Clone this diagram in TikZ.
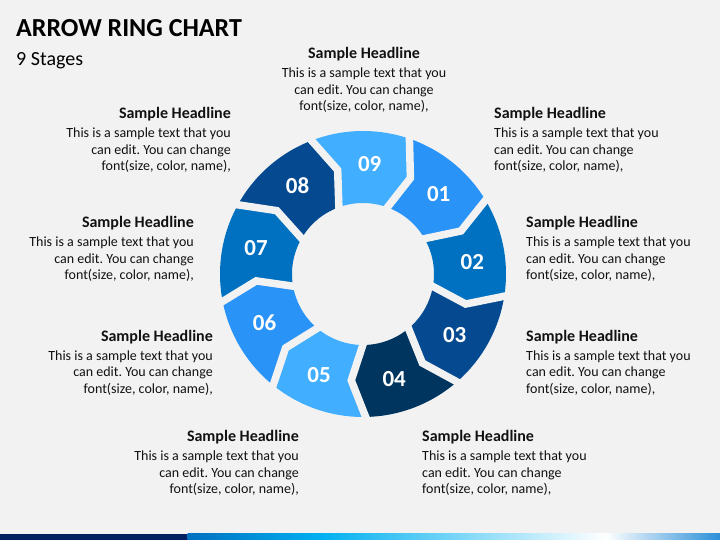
\documentclass[tikz,border=0pt]{standalone}
\usepackage{fontspec}
\setmainfont{Carlito}
\usetikzlibrary{calc}
\frenchspacing
\definecolor{bg}{HTML}{F2F2F2}
\definecolor{cA}{HTML}{41AEFF}
\definecolor{cB}{HTML}{2A93F7}
\definecolor{cC}{HTML}{0070C0}
\definecolor{cD}{HTML}{054A91}
\definecolor{cE}{HTML}{003560}
\definecolor{navy}{HTML}{002060}
\definecolor{barA}{HTML}{0070C0}
\definecolor{barB}{HTML}{00B0F0}
\definecolor{barC}{HTML}{FFFFFF}
\definecolor{barD}{HTML}{2A8FD8}
\definecolor{txt}{HTML}{111111}
\begin{document}
\frenchspacing
\begin{tikzpicture}[x=1pt,y=1pt,
  numlab/.style={text=white,font=\fontsize{23}{26}\selectfont\bfseries,inner sep=0pt},
  blk/.style={inner sep=0pt,text=txt,font=\fontsize{14}{16.7}\selectfont\frenchspacing},
  gapline/.style={draw=bg,line width=7.5pt,line join=miter}]
\fill[bg] (0,0) rectangle (720,540);
\useasboundingbox (0,0) rectangle (720,540);
% title
\node[anchor=base west,inner sep=0pt,text=black,font=\fontsize{26}{30}\selectfont\bfseries] (title) at (16,503.3) {ARROW RING CHART};
\node[anchor=base west,inner sep=0pt,text=black,font=\fontsize{20}{24}\selectfont] (sub) at (16,474.3) {9 Stages};
% ring
\coordinate (c) at (363,266);
\def\Ro{143}
\def\Ri{71}
\def\Rm{107}
\foreach \k/\col in {0/cA,1/cB,2/cC,3/cD,4/cE,5/cA,6/cB,7/cC,8/cD}{
  \pgfmathsetmacro\T{112.7-40*\k}
  \pgfmathsetmacro\L{\T-40}
  \fill[\col] ($(c)+(\T:\Ro)$) arc[start angle=\T,end angle=\L,radius=\Ro pt]
     -- ($(c)+(\L-9:\Rm)$) -- ($(c)+(\L:\Ri)$)
     arc[start angle=\L,end angle=\T,radius=\Ri pt]
     -- ($(c)+(\T-9:\Rm)$) -- cycle;
}
\foreach \k in {0,...,8}{
  \pgfmathsetmacro\B{112.7-40*\k}
  \draw[gapline] ($(c)+(\B:\Ro+12)$) -- ($(c)+(\B-9:\Rm)$) -- ($(c)+(\B+1:\Ri-12)$);
}
\foreach \k/\t in {0/09,1/01,2/02,3/03,4/04,5/05,6/06,7/07,8/08}{
  \node[numlab] (n\t) at ($(c)+(86.5-40*\k:110)$) {\t};
}
% text blocks
\newcommand{\hdl}{{\fontsize{16}{16.7}\selectfont\bfseries Sample Headline}\\[2.3pt]This is a sample text that you\\can edit. You can change\\font(size, color, name),}
\node[blk,anchor=north,align=center] (t9) at (364,493.1) {\hdl};
\node[blk,anchor=north west,align=left] (t1) at (494,433.1) {\hdl};
\node[blk,anchor=north west,align=left] (t2) at (526,324.1) {\hdl};
\node[blk,anchor=north west,align=left] (t3) at (526,210.4) {\hdl};
\node[blk,anchor=north west,align=left] (t4) at (422,110.1) {\hdl};
\node[blk,anchor=north east,align=right] (t5) at (299,110.1) {\hdl};
\node[blk,anchor=north east,align=right] (t6) at (213,210.4) {\hdl};
\node[blk,anchor=north east,align=right] (t7) at (194,324.1) {\hdl};
\node[blk,anchor=north east,align=right] (t8) at (231,433.1) {\hdl};
% bottom bar
\fill[navy] (0,0) rectangle (188,6);
\shade[left color=barA,right color=barB] (187.5,0) rectangle (321,6);
\shade[left color=barB,right color=barC] (320.5,0) rectangle (606,6);
\shade[left color=barC,right color=barD] (605.5,0) rectangle (720,6);
\end{tikzpicture}
\end{document}
